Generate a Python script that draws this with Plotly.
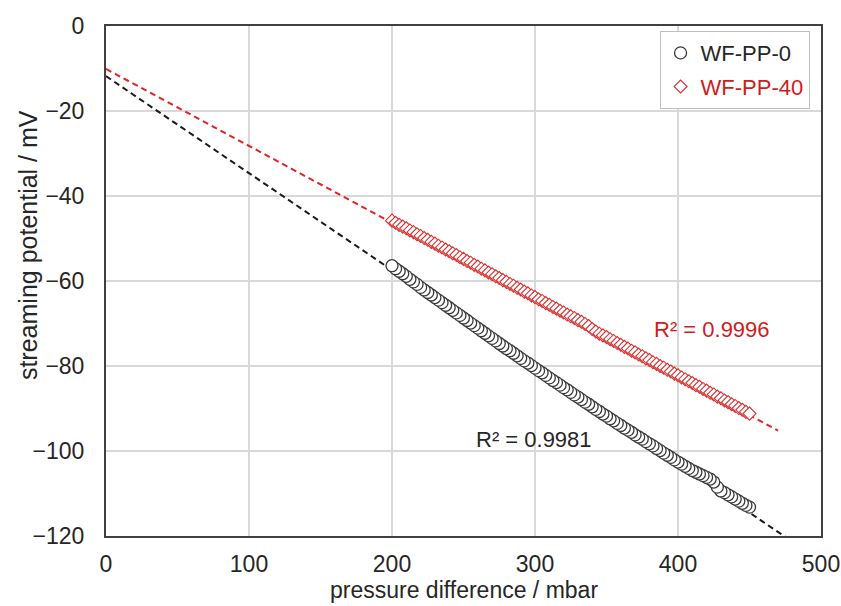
import plotly.graph_objects as go

# ---- data ----
pressure_pp0 = [200, 202.5, 205, 207.5, 210, 212.5, 215, 217.5, 220, 222.5, 225, 227.5, 230, 232.5, 235, 237.5,
                240, 242.5, 245, 247.5, 250, 252.5, 255, 257.5, 260, 262.5, 265, 267.5, 270, 272.5, 275, 277.5,
                280, 282.5, 285, 287.5, 290, 292.5, 295, 297.5, 300, 302.5, 305, 307.5, 310, 312.5, 315, 317.5,
                320, 322.5, 325, 327.5, 330, 332.5, 335, 337.5, 340, 342.5, 345, 347.5, 350, 352.5, 355, 357.5,
                360, 362.5, 365, 367.5, 370, 372.5, 375, 377.5, 380, 382.5, 385, 387.5, 390, 392.5, 395, 397.5,
                400, 402.5, 405, 407.5, 410, 412.5, 415, 417.5, 420, 422.5, 425, 427.5, 430, 432.5, 435, 437.5,
                440, 442.5, 445, 447.5, 450]
potential_pp0 = [-56.4, -57.1, -57.7, -58.3, -58.9, -59.6, -60.2, -60.8, -61.5, -62.1, -62.7, -63.3, -63.9, -64.5,
                 -65.1, -65.7, -66.3, -66.9, -67.5, -68.1, -68.7, -69.3, -69.9, -70.5, -71.1, -71.7, -72.3, -72.9,
                 -73.5, -74.1, -74.7, -75.3, -75.9, -76.4, -77.0, -77.6, -78.2, -78.8, -79.3, -79.9, -80.5, -81.1,
                 -81.6, -82.2, -82.8, -83.4, -83.9, -84.5, -85.1, -85.6, -86.2, -86.8, -87.3, -87.9, -88.5, -89.0,
                 -89.6, -90.2, -90.7, -91.3, -91.8, -92.4, -92.9, -93.5, -94.0, -94.6, -95.1, -95.6, -96.2, -96.7,
                 -97.2, -97.8, -98.3, -98.8, -99.4, -99.9, -100.5, -101.0, -101.5, -102.1, -102.6, -103.1, -103.6,
                 -104.1, -104.6, -105.0, -105.4, -105.8, -106.2, -106.6, -107.3, -108.5, -109.4, -109.8, -110.3,
                 -110.8, -111.3, -111.8, -112.3, -112.8, -113.2]

pressure_pp40 = list(pressure_pp0)
potential_pp40 = [-45.8, -46.3, -46.8, -47.2, -47.6, -48.1, -48.5, -49.0, -49.4, -49.9, -50.3, -50.8, -51.2, -51.7,
                  -52.1, -52.6, -53.0, -53.5, -53.9, -54.4, -54.8, -55.3, -55.7, -56.2, -56.6, -57.1, -57.5, -58.0,
                  -58.4, -58.9, -59.3, -59.8, -60.2, -60.7, -61.1, -61.6, -62.0, -62.5, -62.9, -63.4, -63.8, -64.3,
                  -64.7, -65.2, -65.6, -66.1, -66.5, -67.0, -67.4, -67.9, -68.3, -68.7, -69.2, -69.6, -70.1, -70.6,
                  -71.3, -71.9, -72.4, -72.8, -73.2, -73.7, -74.1, -74.6, -75.0, -75.5, -75.9, -76.4, -76.8, -77.3,
                  -77.7, -78.2, -78.6, -79.1, -79.5, -80.0, -80.4, -80.9, -81.3, -81.8, -82.2, -82.7, -83.1, -83.6,
                  -84.0, -84.5, -84.9, -85.4, -85.8, -86.3, -86.7, -87.2, -87.6, -88.1, -88.5, -89.0, -89.4, -89.9,
                  -90.3, -90.8, -91.2]

# linear trend lines (end points)
trend_pp0_x = [0, 475]
trend_pp0_y = [-11.8, -120.2]
trend_pp40_x = [0, 470]
trend_pp40_y = [-10.1, -95.2]

r2_pp0 = "R² = 0.9981"
r2_pp40 = "R² = 0.9996"

x_ticks = [0, 100, 200, 300, 400, 500]
y_ticks = [0, -20, -40, -60, -80, -100, -120]

x_title = "pressure difference / mbar"
y_title = "streaming potential / mV"

BLACK = "#262626"
RED = "#d01c1c"
FONT = "Liberation Sans, Arial, sans-serif"

fig = go.Figure()

fig.add_trace(go.Scatter(x=trend_pp0_x, y=trend_pp0_y, mode="lines", showlegend=False, hoverinfo="skip",
                         line=dict(color="#1a1a1a", width=2, dash="6px,4px")))
fig.add_trace(go.Scatter(x=trend_pp40_x, y=trend_pp40_y, mode="lines", showlegend=False, hoverinfo="skip",
                         line=dict(color="#e02424", width=2, dash="6px,4px")))

fig.add_trace(go.Scatter(x=pressure_pp0[::-1], y=potential_pp0[::-1], mode="markers", name="WF-PP-0",
                         legendgroup="a",
                         marker=dict(symbol="circle", size=12, color="white",
                                     line=dict(color="#3a3a3a", width=1.3))))
fig.add_trace(go.Scatter(x=pressure_pp40, y=potential_pp40, mode="markers",
                         name=f"<span style='color:{RED}'>WF-PP-40</span>", legendgroup="b",
                         marker=dict(symbol="diamond", size=10, color="white",
                                     line=dict(color="#d83030", width=1.1))))

fig.add_annotation(x=299.5, y=-97.4, xref="x", yref="y", text=r2_pp0, showarrow=False,
                   font=dict(family=FONT, size=22, color=BLACK))
fig.add_annotation(x=424, y=-71.5, xref="x", yref="y", text=r2_pp40, showarrow=False,
                   font=dict(family=FONT, size=22, color=RED))

# axis titles
fig.add_annotation(x=0.5, y=-0.105, xref="paper", yref="paper", text=x_title, showarrow=False,
                   xanchor="center", yanchor="middle", font=dict(family=FONT, size=23, color=BLACK))
fig.add_annotation(x=-0.108, y=0.57, xref="paper", yref="paper", text=y_title, showarrow=False,
                   textangle=-90, xanchor="center", yanchor="middle",
                   font=dict(family=FONT, size=25, color=BLACK))

axis_common = dict(showline=True, mirror=True, linecolor="#404040", linewidth=2,
                   showgrid=True, gridcolor="#d9d9d9", gridwidth=1.5, zeroline=False,
                   ticks="outside", tickcolor="rgba(0,0,0,0)", automargin=False,
                   tickfont=dict(family=FONT, size=23, color=BLACK))

fig.update_xaxes(range=[0, 500], tickvals=x_ticks, ticklen=6, **axis_common)
fig.update_yaxes(range=[-120, 0], tickvals=y_ticks, ticklen=15, **axis_common)

fig.update_layout(
    width=841, height=606,
    margin=dict(l=106, r=20, t=26, b=70),
    paper_bgcolor="white", plot_bgcolor="white",
    font=dict(family=FONT, size=22, color=BLACK),
    showlegend=True,
    legend=dict(x=0.984, y=0.99, xanchor="right", yanchor="top",
                bgcolor="white", bordercolor="#bfbfbf", borderwidth=1,
                font=dict(family=FONT, size=22, color=BLACK),
                itemwidth=30, tracegroupgap=2),
)

fig.write_html("out.html")
